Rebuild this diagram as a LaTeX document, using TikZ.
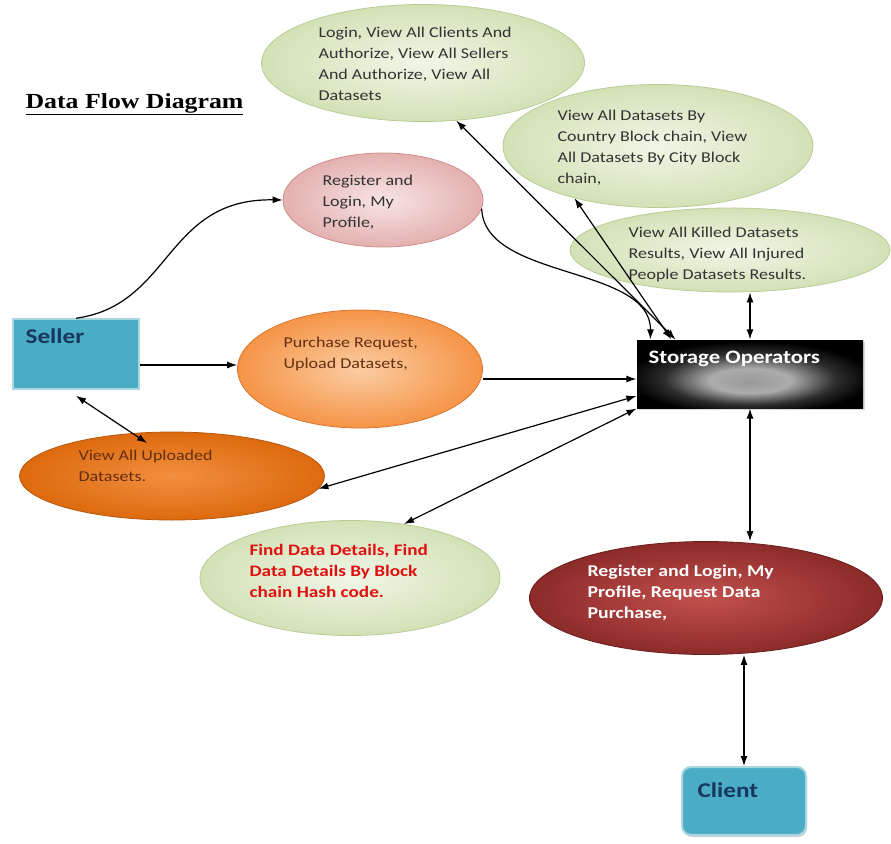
\documentclass[tikz,border=0pt]{standalone}
\usepackage{fontspec}
\setmainfont{Carlito}[FakeStretch=1.2]
\newfontfamily\titlefont{Liberation Serif}[FakeStretch=1.2]
\usepackage{xcolor}
\usetikzlibrary{arrows.meta,shapes.geometric,shadows}

\definecolor{gin}{HTML}{F1F6E7}
\definecolor{gout}{HTML}{D3E1B6}
\definecolor{gline}{HTML}{B9CC95}
\definecolor{pin}{HTML}{F8E4E4}
\definecolor{pout}{HTML}{E3B1B0}
\definecolor{pline}{HTML}{D08E8C}
\definecolor{oin}{HTML}{FBCDA2}
\definecolor{oout}{HTML}{F59447}
\definecolor{oline}{HTML}{D9772F}
\definecolor{dkin}{HTML}{F28F40}
\definecolor{dkout}{HTML}{DD6A0E}
\definecolor{dkline}{HTML}{B8560A}
\definecolor{rin}{HTML}{C2504D}
\definecolor{rout}{HTML}{8C2B29}
\definecolor{rline}{HTML}{6A1E1C}
\definecolor{boxfill}{HTML}{4BACC6}
\definecolor{boxline}{HTML}{A9D6E3}
\definecolor{navy}{HTML}{17375E}
\definecolor{txtgray}{HTML}{333333}
\definecolor{txtbrown}{HTML}{632F10}
\definecolor{txtred}{HTML}{E01010}
\pgfdeclareradialshading{stshade}{\pgfpoint{0bp}{-6bp}}{color(0bp)=(gray!80); color(9bp)=(gray!65); color(19bp)=(gray!35!black); color(27bp)=(black); color(50bp)=(black)}

\begin{document}
\begin{tikzpicture}[x=1pt, y=-1pt, >={Latex[length=10pt,width=7pt]}, line width=1.2pt,
  ell/.style={ellipse,inner sep=0pt,shading=radial,line width=0.8pt},
  gr/.style={ell,draw=gline,inner color=gin,outer color=gout},
  ent/.style={rectangle,fill=boxfill,inner sep=0pt,minimum width=126pt,minimum height=70pt},
  txt/.style={anchor=north west,inner sep=0pt,align=left,font=\fontsize{15}{21}\selectfont,text=txtgray},
  enttxt/.style={anchor=north west,inner sep=0pt,font=\fontsize{21}{25}\selectfont\bfseries,text=navy}]
\useasboundingbox (0,0) rectangle (891,843);
\node[anchor=base west,inner sep=0pt,font=\titlefont\bfseries\fontsize{21.5}{25}\selectfont] (title) at (25,108) {\underline{Data Flow Diagram}};

\node[gr,minimum width=323pt,minimum height=117pt] (admin) at (423,63) {};
\node[gr,minimum width=310pt,minimum height=123pt] (ds) at (658,146) {};
\node[gr,minimum width=320pt,minimum height=84pt] (killed) at (730,250) {};
\node[ell,draw=pline,inner color=pin,outer color=pout,minimum width=200pt,minimum height=94pt] (reg) at (383,200) {};
\node[ell,draw=oline,inner color=oin,outer color=oout,minimum width=245pt,minimum height=118pt] (purch) at (360,369) {};
\node[ell,draw=dkline,inner color=dkin,outer color=dkout,minimum width=305pt,minimum height=88pt] (upl) at (172,476) {};
\node[gr,minimum width=300pt,minimum height=115pt] (find) at (350,578) {};
\node[ell,draw=rline,inner color=rin,outer color=rout,minimum width=353pt,minimum height=113pt] (cli) at (706,598) {};

\node[ent,draw=boxline,line width=1.5pt] (seller) at (76,354) {};
\node[ent,draw=boxline,line width=2pt,rounded corners=9pt,minimum width=124pt,minimum height=68pt,drop shadow={opacity=0.35,shadow xshift=1pt,shadow yshift=-2pt}] (client) at (744,801) {};
\node[rectangle,minimum width=226pt,minimum height=68pt,shading=stshade,drop shadow={opacity=0.3,shadow xshift=2pt,shadow yshift=-2pt}] (storage) at (750,374) {};

\node[txt] (admintxt) at (318,26) {Login, View All Clients And\\Authorize, View All Sellers\\And Authorize, View All\\Datasets};
\node[txt] (dstxt) at (557,109) {View All Datasets By\\Country Block chain, View\\All Datasets By City Block\\chain,};
\node[txt] (killedtxt) at (628,226) {View All Killed Datasets\\Results, View All Injured\\People Datasets Results.};
\node[txt] (regtxt) at (322,174) {Register and\\Login, My\\Profile,};
\node[txt,text=txtbrown] (purchtxt) at (283,336) {Purchase Request,\\Upload Datasets,};
\node[txt,text=txtbrown] (upltxt) at (78,449) {View All Uploaded\\Datasets.};
\node[txt,text=txtred,font=\fontsize{16}{21}\selectfont\bfseries] (findtxt) at (249,544) {Find Data Details, Find\\Data Details By Block\\chain Hash code.};
\node[txt,text=white,font=\fontsize{16.5}{21}\selectfont\bfseries] (clitxt) at (587,564) {Register and Login, My\\Profile, Request Data\\Purchase,};
\node[enttxt] (sellertxt) at (25,328) {Seller};
\node[enttxt] (clienttxt) at (697,782) {Client};
\node[enttxt,text=white,font=\fontsize{19}{23}\selectfont\bfseries] (storagetxt) at (648,350) {Storage Operators};

\coordinate (s1) at ([yshift=-11pt]seller.east);
\coordinate (s2) at ([yshift=-5pt]storage.west);
\coordinate (uplin) at (147,443);
\draw[->] (seller.north) .. controls (172,305) and (165,198) .. (reg.west);
\draw[->] (reg.-5) .. controls (484,280) and (651,265) .. ([xshift=14pt]storage.north west);
\draw[<->] (admin.-60) -- ([xshift=39pt]storage.north west);
\draw[<->] (ds.-148) -- ([xshift=35pt]storage.north west);
\draw[<->] (killed.south -| storage.north) -- (storage.north);
\draw[->] (s1) -- (s1 -| purch.west);
\draw[->] (s2 -| purch.east) -- (s2);
\draw[<->] (upl.-5) -- ([yshift=-22pt]storage.west);
\draw[<->] (find.45) -- (storage.south west);
\draw[<->] ([yshift=-6pt]seller.south) -- (uplin);
\draw[<->] (storage.south) -- (storage.south |- cli.north);
\draw[<->] (client.north |- cli.south) -- (client.north);
\end{tikzpicture}
\end{document}
